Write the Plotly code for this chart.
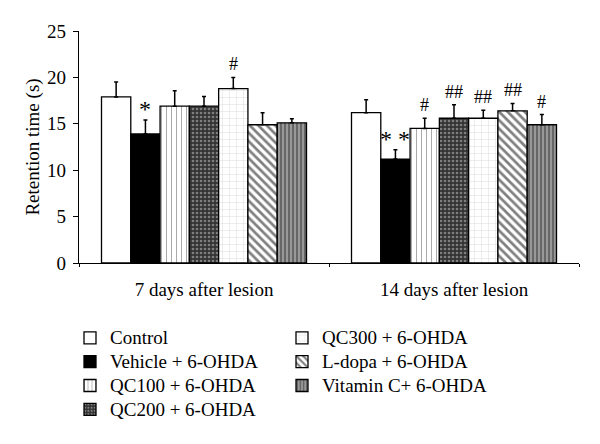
import plotly.graph_objects as go

categories = ["7 days after lesion", "14 days after lesion"]
series_names = ["Control", "Vehicle + 6-OHDA", "QC100 + 6-OHDA", "QC200 + 6-OHDA",
                "QC300 + 6-OHDA", "L-dopa + 6-OHDA", "Vitamin C+ 6-OHDA"]
means = [
    [17.9, 16.2],
    [13.9, 11.2],
    [16.9, 14.5],
    [16.9, 15.6],
    [18.8, 15.6],
    [14.9, 16.4],
    [15.1, 14.9],
]
errors = [
    [1.6, 1.4],
    [1.5, 1.0],
    [1.65, 1.1],
    [1.05, 1.45],
    [1.2, 0.85],
    [1.3, 0.8],
    [0.45, 1.1],
]
marks = [
    ["", ""],
    ["*", "* *"],
    ["", "#"],
    ["", "##"],
    ["#", "##"],
    ["", "##"],
    ["", "#"],
]
y_ticks = [0, 5, 10, 15, 20, 25]

colors = ["white", "black", "white", "#333333", "white", "white", "#999999"]
patterns = [
    dict(shape=""),
    dict(shape=""),
    dict(shape="|", fgcolor="#555555", bgcolor="white", size=5, solidity=0.2),
    dict(shape=".", fgcolor="#cccccc", bgcolor="#333333", size=4, solidity=0.35),
    dict(shape="+", fgcolor="#aaaaaa", bgcolor="white", size=7, solidity=0.12),
    dict(shape="\\", fgcolor="black", bgcolor="white", size=6, solidity=0.45),
    dict(shape="|", fgcolor="#333333", bgcolor="#999999", size=4, solidity=0.5),
]

FONT = "Liberation Serif"
PAGE_OFFSET = 8  # default body margin of the html page
W, H = 600 - PAGE_OFFSET, 444 - PAGE_OFFSET
ML, MR, MT, MB = 79 - PAGE_OFFSET, 21, 31 - PAGE_OFFSET, 181
BARGAP = 0.18

fig = go.Figure()
for i, name in enumerate(series_names):
    fig.add_trace(go.Bar(
        x=categories, y=means[i],
        name=f'<span style="font-size:19px">{name}</span>',
        marker=dict(color=colors[i], line=dict(color="black", width=1.3), pattern=patterns[i]),
        error_y=dict(type="data", array=errors[i], arrayminus=[0] * len(categories),
                     symmetric=False, color="black", thickness=1.5, width=2),
        legend="legend" if i < 4 else "legend2",
        legendgroup=name,
    ))

cat_px = (W - ML - MR) / len(categories)
bar_px = (1 - BARGAP) * cat_px / len(series_names)
annotations = []
for i in range(len(series_names)):
    for j, c in enumerate(categories):
        if marks[i][j]:
            is_hash = "#" in marks[i][j]
            annotations.append(dict(
                x=c, y=means[i][j] + errors[i][j], xref="x", yref="y",
                text=marks[i][j], showarrow=False, yanchor="bottom",
                xshift=(i - (len(series_names) - 1) / 2) * bar_px,
                yshift=1 if is_hash else -4,
                font=dict(family=FONT, size=18 if is_hash else 24, color="black"),
            ))

legend_common = dict(
    font=dict(family=FONT, size=16, color="black"),
    bgcolor="rgba(0,0,0,0)", yanchor="top", xanchor="left",
    tracegroupgap=0, itemwidth=30, orientation="v",
)
fig.update_layout(
    width=W, height=H,
    margin=dict(l=ML, r=MR, t=MT, b=MB, autoexpand=False),
    plot_bgcolor="white", paper_bgcolor="white",
    barmode="group", bargap=BARGAP, bargroupgap=0,
    font=dict(family=FONT, size=18, color="black"),
    xaxis=dict(showline=True, linecolor="black", linewidth=1.3, ticks="outside",
               tickson="boundaries", ticklen=3, tickcolor="black", automargin=False,
               ticklabelstandoff=9,
               tickfont=dict(family=FONT, size=19), showgrid=False),
    yaxis=dict(range=[0, 25], tickvals=y_ticks, showline=True, linecolor="black",
               linewidth=1.3, ticks="outside", ticklen=5, tickcolor="black",
               showgrid=False, zeroline=False, automargin=False,
               ticklabelstandoff=3,
               tickfont=dict(family=FONT, size=19),
               title=dict(text="Retention time (s)", font=dict(family=FONT, size=19), standoff=2)),
    legend=dict(x=-0.018, y=-0.25, **legend_common),
    legend2=dict(x=0.406, y=-0.25, **legend_common),
    annotations=annotations,
    showlegend=True,
)
fig.write_html("out.html")
